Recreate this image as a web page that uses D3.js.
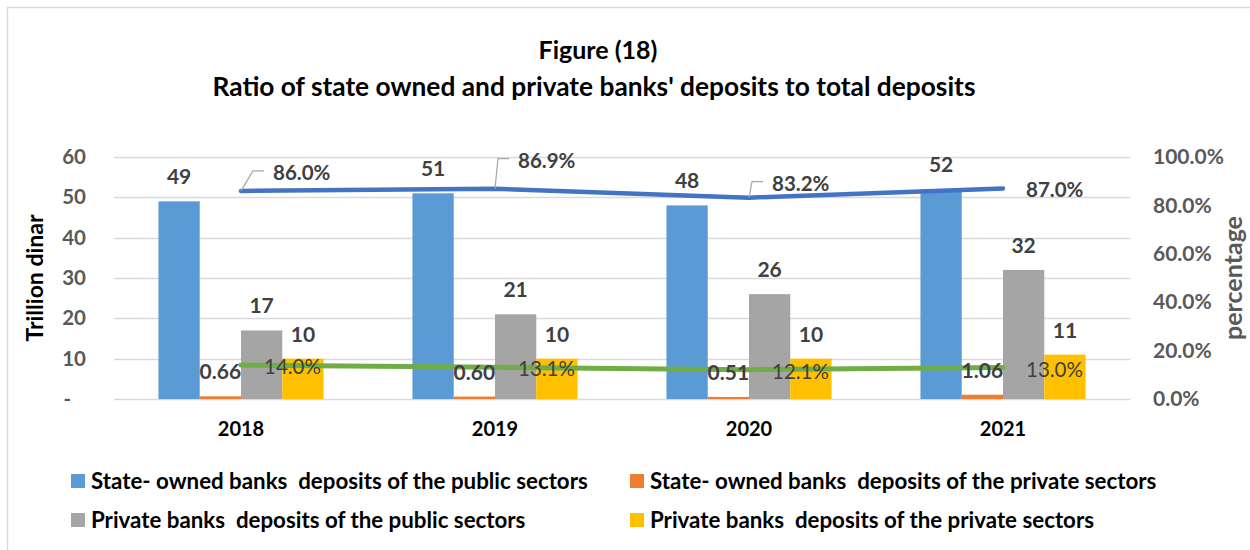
<!DOCTYPE html>
<html>
<head>
<meta charset="utf-8">
<script src="https://cdn.jsdelivr.net/npm/d3@7/dist/d3.min.js"></script>
<style>
  html, body { margin: 0; padding: 0; background: #fff; }
  svg { display: block; font-family: Lato, "Noto Sans", sans-serif; }
  text { white-space: pre; }
</style>
</head>
<body>
<svg id="chart" width="1250" height="550"></svg>
<script>
// Deposits by bank type, trillion dinar
const years = ["2018", "2019", "2020", "2021"];
const statePublicDeposits  = [49, 51, 48, 52];
const statePrivateDeposits = [0.66, 0.60, 0.51, 1.06];
const privPublicDeposits   = [17, 21, 26, 32];
const privPrivateDeposits  = [10, 10, 10, 11];

// Share of total deposits
const stateShare   = [0.860, 0.869, 0.832, 0.870];
const privateShare = [0.140, 0.131, 0.121, 0.130];

const seriesNames = [
  "State- owned banks  deposits of the public sectors",
  "State- owned banks  deposits of the private sectors",
  "Private banks  deposits of the public sectors",
  "Private banks  deposits of the private sectors"
];
const leftTicks  = [0, 10, 20, 30, 40, 50, 60];
const rightTicks = [0, 0.2, 0.4, 0.6, 0.8, 1.0];

const barSeries = [statePublicDeposits, statePrivateDeposits, privPublicDeposits, privPrivateDeposits];
const barColors = ["#5B9BD5", "#ED7D31", "#A5A5A5", "#FFC000"];
const barLabelFmt = [d3.format(".0f"), d3.format(".2f"), d3.format(".0f"), d3.format(".0f")];

const svg = d3.select("#chart");

// chart frame
svg.append("rect")
  .attr("x", 7.5).attr("y", 7.5).attr("width", 1300).attr("height", 600)
  .attr("fill", "#fff").attr("stroke", "#d9d9d9").attr("stroke-width", 1.5);

// plot geometry
const plot = { left: 114, right: 1130, top: 157, bottom: 399 };

const x = d3.scaleBand().domain(years).range([plot.left, plot.right]).padding(0);
const groupWidth = x.bandwidth() * 0.65;
const xs = d3.scaleBand().domain(d3.range(barSeries.length))
  .range([-groupWidth / 2, groupWidth / 2]).padding(0);
const yL = d3.scaleLinear().domain([0, 60]).range([plot.bottom, plot.top]);
const yR = d3.scaleLinear().domain([0, 1]).range([plot.bottom, plot.top]);
const cx = d => x(d) + x.bandwidth() / 2;

// title
const title = svg.append("g").attr("font-weight", 700).attr("fill", "#000").attr("text-anchor", "middle");
title.append("text").attr("x", 598).attr("y", 59).attr("font-size", 25).text("Figure (18)");
title.append("text").attr("x", 594).attr("y", 96).attr("font-size", 26.3)
  .text("Ratio of state owned and private banks' deposits to total deposits");

// gridlines
svg.append("g").selectAll("line").data(leftTicks).join("line")
  .attr("x1", plot.left).attr("x2", plot.right)
  .attr("y1", d => Math.round(yL(d)) + 0.5).attr("y2", d => Math.round(yL(d)) + 0.5)
  .attr("stroke", "#d9d9d9").attr("stroke-width", 1.5);

// left axis
const leftAxis = d3.axisLeft(yL).tickValues(leftTicks).tickSize(0).tickPadding(0)
  .tickFormat(d => d === 0 ? "-   " : d3.format("d")(d));
const gL = svg.append("g").attr("transform", `translate(86,0)`).call(leftAxis);
gL.select(".domain").remove();
gL.selectAll("text").attr("font-family", "Lato, sans-serif").attr("font-size", 20.5)
  .attr("font-weight", 700).attr("fill", "#595959");

// right axis
const rightAxis = d3.axisRight(yR).tickValues(rightTicks).tickSize(0).tickPadding(0)
  .tickFormat(d3.format(".1%"));
const gR = svg.append("g").attr("transform", `translate(1153,0)`).call(rightAxis);
gR.select(".domain").remove();
gR.selectAll("text").attr("font-family", "Lato, sans-serif").attr("font-size", 21)
  .attr("font-weight", 700).attr("fill", "#595959");

// bottom axis
const bottomAxis = d3.axisBottom(x).tickSize(0).tickPadding(0);
const gB = svg.append("g").attr("transform", `translate(0,422)`).call(bottomAxis);
gB.select(".domain").remove();
gB.selectAll("text").attr("font-family", "Lato, sans-serif").attr("font-size", 20)
  .attr("font-weight", 700).attr("fill", "#000");

// axis titles
svg.append("text").attr("transform", `translate(43,278) rotate(-90)`)
  .attr("text-anchor", "middle").attr("font-size", 23).attr("font-weight", 700)
  .attr("fill", "#000").text("Trillion dinar");
svg.append("text").attr("transform", `translate(1242,278) rotate(-90)`)
  .attr("text-anchor", "middle").attr("font-size", 25).attr("font-weight", 700)
  .attr("fill", "#595959").text("percentage");

// bars
const barG = svg.append("g");
barSeries.forEach((vals, si) => {
  barG.append("g").selectAll("rect").data(vals).join("rect")
    .attr("x", (d, i) => cx(years[i]) + xs(si))
    .attr("width", xs.bandwidth())
    .attr("y", d => yL(d))
    .attr("height", d => yL(0) - yL(d))
    .attr("fill", barColors[si]);
});

// ratio lines
const line = d3.line().x((d, i) => cx(years[i])).y(d => yR(d));
svg.append("path").datum(stateShare).attr("d", line)
  .attr("fill", "none").attr("stroke", "#4472C4").attr("stroke-width", 4.5)
  .attr("stroke-linecap", "round").attr("stroke-linejoin", "round");
svg.append("path").datum(privateShare).attr("d", line)
  .attr("fill", "none").attr("stroke", "#70AD47").attr("stroke-width", 5)
  .attr("stroke-linecap", "round").attr("stroke-linejoin", "round");

// bar value labels
const labG = svg.append("g").attr("font-size", 21).attr("font-weight", 700)
  .attr("fill", "#404040").attr("text-anchor", "middle");
barSeries.forEach((vals, si) => {
  labG.append("g").selectAll("text").data(vals).join("text")
    .attr("x", (d, i) => cx(years[i]) + xs(si) + xs.bandwidth() / 2)
    .attr("y", d => yL(d) - 17)
    .text(d => barLabelFmt[si](d));
});

// state share labels, with leader lines where the label is lifted away
const pct = d3.format(".1%");
const stateLabelShift = [[32, -18], [23, -28], [23, -14], [23, 1]];
const stateLeader = [true, true, true, false];
const sG = svg.append("g");
stateShare.forEach((v, i) => {
  const px = cx(years[i]), py = yR(v);
  const lx = px + stateLabelShift[i][0], ly = py + stateLabelShift[i][1];
  if (stateLeader[i]) {
    sG.append("path")
      .attr("d", `M${px},${py}L${lx - 20},${ly - 2}L${lx - 9},${ly - 2}`)
      .attr("fill", "none").attr("stroke", "#a6a6a6").attr("stroke-width", 1.2);
  }
  sG.append("text").attr("x", lx).attr("y", ly).attr("dy", "0.35em")
    .attr("font-size", 20.5).attr("font-weight", 700).attr("fill", "#404040")
    .text(pct(v));
});

// private share labels
svg.append("g").selectAll("text").data(privateShare).join("text")
  .attr("x", (d, i) => cx(years[i]) + 23)
  .attr("y", d => yR(d) + 2).attr("dy", "0.35em")
  .attr("font-size", 20.5).attr("font-weight", 400).attr("fill", "#404040")
  .text(d => pct(d));

// legend
const legendPos = [[71, 481], [630, 481], [71, 520], [630, 520]];
const lg = svg.append("g");
seriesNames.forEach((name, i) => {
  const [lx, ly] = legendPos[i];
  lg.append("rect").attr("x", lx).attr("y", ly - 7).attr("width", 14).attr("height", 14)
    .attr("fill", barColors[i]);
  lg.append("text").attr("x", lx + 20).attr("y", ly).attr("dy", "0.35em")
    .attr("font-size", 22.3).attr("font-weight", 700).attr("fill", "#000").text(name);
});
</script>
</body>
</html>
